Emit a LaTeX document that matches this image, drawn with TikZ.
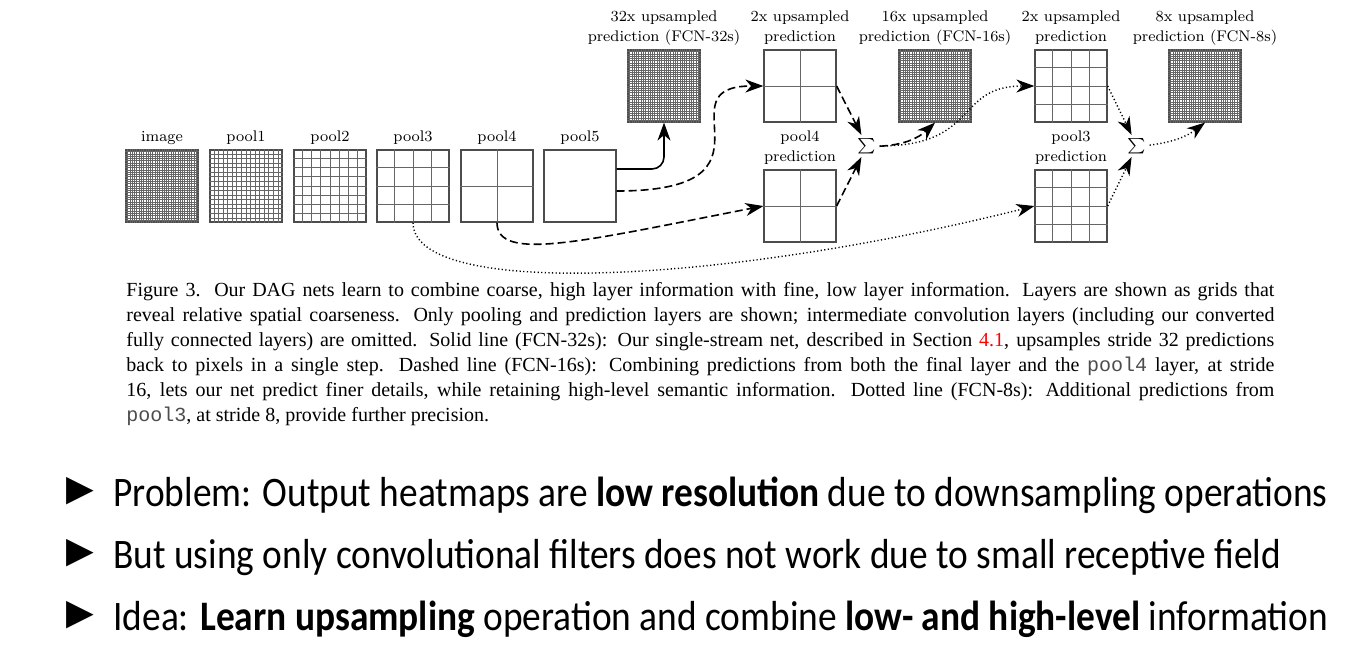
\documentclass[tikz,border=0pt]{standalone}
\usepackage{fontspec}
\usepackage{amsmath}
\newfontfamily\capfont{Liberation Serif}
\newfontfamily\capmono{Liberation Mono}
\newfontfamily\slidefont[FakeStretch=0.89]{Carlito}
\newfontfamily\symbfont{DejaVu Sans}
\usetikzlibrary{calc,arrows.meta}

\newcommand{\gridlines}[2]{%
	\foreach \k in {1,...,#2} {
		\ifnum\k<#2
		\draw[cell] ($(#1.north west)!\k/#2!(#1.north east)$) -- ($(#1.south west)!\k/#2!(#1.south east)$);
		\draw[cell] ($(#1.north west)!\k/#2!(#1.south west)$) -- ($(#1.north east)!\k/#2!(#1.south east)$);
		\fi
	}%
}
\newcommand{\capline}[1]{\hbox to 574pt{\spaceskip=0pt\xspaceskip=0pt #1}}

\tikzset{
	box/.style={draw=black!70, line width=0.6pt, minimum size=36pt, inner sep=0pt},
	cell/.style={draw=black!60, line width=0.45pt},
	lbl/.style={font=\fontsize{7.7pt}{10pt}\selectfont, inner sep=0pt, align=center},
	tip/.style={-{Stealth[length=9pt,width=6.5pt,inset=2.8pt]}, line width=0.8pt},
	solidline/.style={tip},
	dashline/.style={tip, dash pattern=on 4pt off 2pt},
	dotline/.style={tip, line width=0.7pt, dash pattern=on 0.6pt off 1.2pt},
	itemtext/.style={anchor=base west, inner sep=0pt, font=\slidefont\fontsize{21pt}{24pt}\selectfont},
	bullet/.style={inner sep=0pt, font=\symbfont\fontsize{18pt}{18pt}\selectfont},
}

\begin{document}
\begin{tikzpicture}[x=0.5pt, y=-0.5pt]
	\path[use as bounding box, fill=white] (0,0) rectangle (1361,661);

	\node[box] (image) at (162,186) {};
	\node[box] (pool1) at (246,186) {};
	\node[box] (pool2) at (330,186) {};
	\node[box] (pool3) at (413,186) {};
	\node[box] (pool4) at (497,186) {};
	\node[box] (pool5) at (580,186) {};
	\node[box] (up32) at (664,86) {};
	\node[box] (up2a) at (800,86) {};
	\node[box] (up16) at (935,86) {};
	\node[box] (up2b) at (1071,86) {};
	\node[box] (up8) at (1205,86) {};
	\node[box] (pred4) at (800,206) {};
	\node[box] (pred3) at (1071,206) {};

	\gridlines{image}{32}
	\gridlines{pool1}{16}
	\gridlines{pool2}{8}
	\gridlines{pool3}{4}
	\gridlines{pool4}{2}
	\gridlines{up32}{32}
	\gridlines{up2a}{2}
	\gridlines{up16}{32}
	\gridlines{up2b}{4}
	\gridlines{up8}{32}
	\gridlines{pred4}{2}
	\gridlines{pred3}{4}

	\node[lbl, anchor=base] (imagelbl) at (162,141) {image};
	\node[lbl, anchor=base] (pool1lbl) at (246,141) {pool1};
	\node[lbl, anchor=base] (pool2lbl) at (330,141) {pool2};
	\node[lbl, anchor=base] (pool3lbl) at (413,141) {pool3};
	\node[lbl, anchor=base] (pool4lbl) at (497,141) {pool4};
	\node[lbl, anchor=base] (pool5lbl) at (580,141) {pool5};
	\node[lbl, anchor=north] (up32lbl) at (664,10) {32x upsampled\\prediction (FCN-32s)};
	\node[lbl, anchor=north] (up2albl) at (800,10) {2x upsampled\\prediction};
	\node[lbl, anchor=north] (up16lbl) at (935,10) {16x upsampled\\prediction (FCN-16s)};
	\node[lbl, anchor=north] (up2blbl) at (1071,10) {2x upsampled\\prediction};
	\node[lbl, anchor=north] (up8lbl) at (1205,10) {8x upsampled\\prediction (FCN-8s)};
	\node[lbl, anchor=north] (pred4lbl) at (800,130) {pool4\\prediction};
	\node[lbl, anchor=north] (pred3lbl) at (1071,130) {pool3\\prediction};

	\node[lbl, inner sep=1.5pt] (sum1) at (867,146) {$\sum$};
	\node[lbl, inner sep=1.5pt] (sum2) at (1137,146) {$\sum$};

	\draw[solidline, rounded corners=6pt] ([yshift=8.5pt]pool5.east) -| (up32.south);
	\draw[dashline] ([yshift=-2.5pt]pool5.east) .. controls +(175,0) and +(-105,0) .. (up2a.west);
	\draw[dashline] (pool4.south) .. controls +(0,40) and +(-180,35) .. (pred4.west);
	\draw[dashline] (up2a.east) -- (sum1);
	\draw[dashline] (pred4.east) -- (sum1);
	\draw[dashline] (sum1) to[bend right=20] (up16.south);
	\draw[dotline] (sum1.east) .. controls +(100,0) and +(-80,0) .. (up2b.west);
	\draw[dotline] (pool3.south) .. controls +(0,75) and +(-320,80) .. (pred3.west);
	\draw[dotline] (up2b.east) -- (sum2);
	\draw[dotline] (pred3.east) -- (sum2);
	\draw[dotline] (sum2) to[bend right=15] (up8.south);

	\node[anchor=north west, inner sep=0pt, text width=574pt, font=\capfont\fontsize{10pt}{12.5pt}\selectfont] (caption) at (126,282) {%
		\capline{Figure 3.\ \ Our DAG nets learn to combine coarse, high layer information with fine, low layer information. Layers are shown as grids that}
		\capline{reveal relative spatial coarseness. Only pooling and prediction layers are shown; intermediate convolution layers (including our converted}
		\capline{fully connected layers) are omitted. Solid line (FCN-32s): Our single-stream net, described in Section \textcolor{red}{4.1}, upsamples stride 32 predictions}
		\capline{back to pixels in a single step. Dashed line (FCN-16s): Combining predictions from both the final layer and the \textcolor{black!70}{\capmono pool4} layer, at stride}
		\capline{16, lets our net predict finer details, while retaining high-level semantic information. Dotted line (FCN-8s): Additional predictions from}
		\capline{\textcolor{black!70}{\capmono pool3}, at stride 8, provide further precision.\hfil}};

	\node[bullet] (tri1) at (80,491) {▶};
	\node[bullet] (tri2) at (80,553) {▶};
	\node[bullet] (tri3) at (80,615) {▶};
	\node[itemtext] (item1) at (113,506) {Problem: Output heatmaps are \textbf{low resolution} due to downsampling operations};
	\node[itemtext] (item2) at (113,568) {But using only convolutional filters does not work due to small receptive field};
	\node[itemtext] (item3) at (113,630) {Idea: \textbf{Learn upsampling} operation and combine \textbf{low- and high-level} information};
\end{tikzpicture}
\end{document}
